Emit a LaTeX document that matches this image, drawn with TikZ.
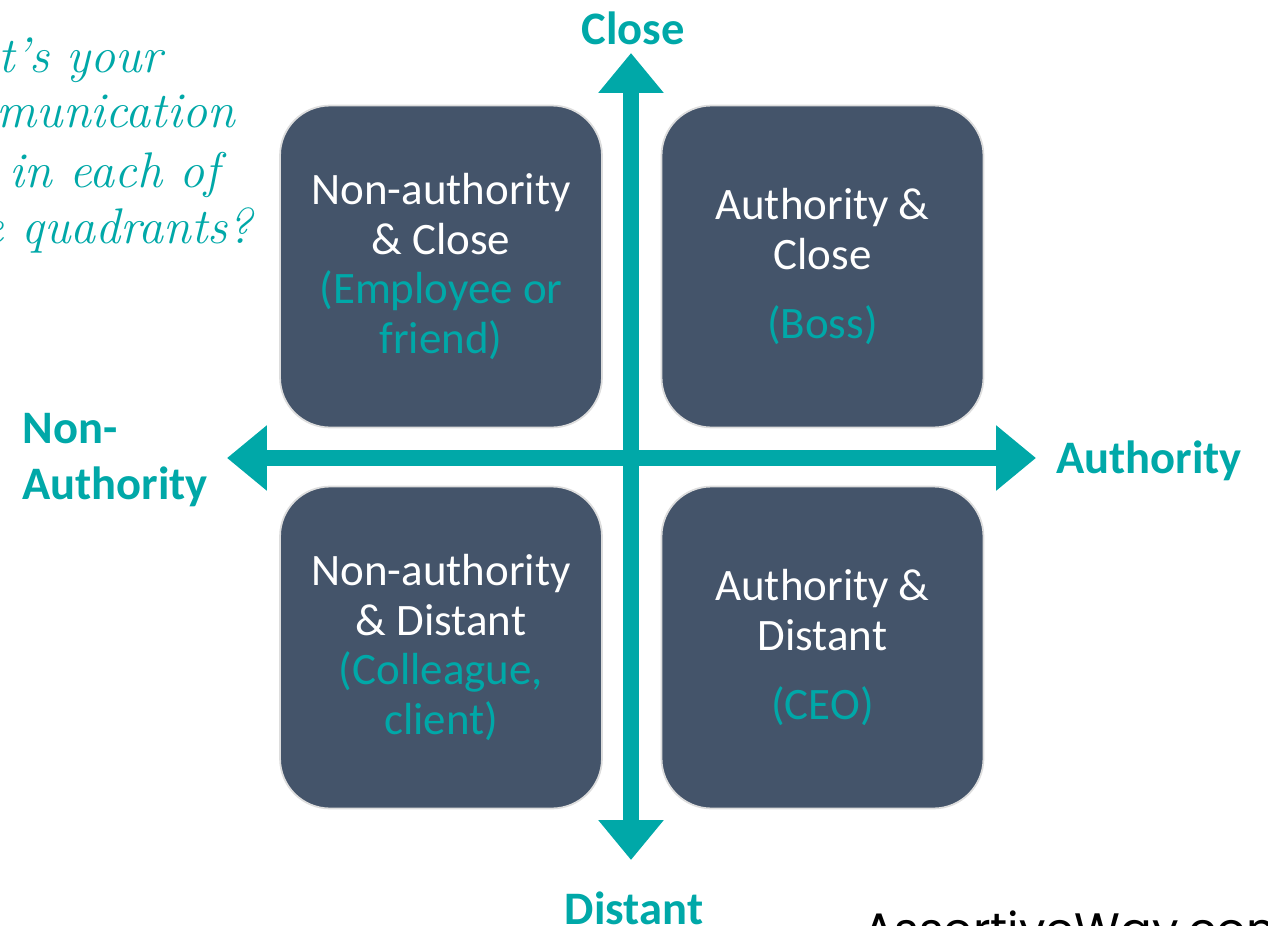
\documentclass[tikz,border=0pt]{standalone}
\usepackage{fontspec}
\setsansfont{Carlito}
\newfontfamily\webfont{Poppins}
\usetikzlibrary{arrows.meta}
\definecolor{axisteal}{HTML}{00A8A8}
\definecolor{boxslate}{HTML}{44546A}
\definecolor{boxedge}{HTML}{DDDDDD}
\newcommand{\hint}[1]{\textcolor{axisteal}{#1}}
\begin{document}
\begin{tikzpicture}[x=0.02cm, y=-0.02cm,
		quad/.style={draw=boxedge, line width=1pt, fill=boxslate, rounded corners=1cm,
			minimum width=6.44cm, minimum height=6.44cm, text=white, align=center,
			font=\sffamily\fontsize{25.6}{28.2}\selectfont},
		axis/.style={axisteal, line width=0.32cm,
			{Triangle[length=0.8cm, width=1.26cm]}-{Triangle[length=0.8cm, width=1.26cm]}},
		axislabel/.style={text=axisteal, inner sep=0pt,
			font=\sffamily\bfseries\fontsize{26.5}{31.9}\selectfont},
		hand/.style={text=axisteal, inner sep=0pt, anchor=base east,
			font=\rmfamily\itshape\fontsize{28.5}{32}\selectfont}]
		\useasboundingbox (0, 0) rectangle (1268, 926);
		\clip (0, 0) rectangle (1268, 926);
		% quadrants
		\node[quad] (nc) at (441, 266.5) {Non-authority\\\& Close\\\hint{(Employee or}\\\hint{friend)}};
		\node[quad] (ac) at (822.5, 266.5) {Authority \&\\Close\\[0.4cm]\hint{(Boss)}};
		\node[quad] (nd) at (441, 647.5) {Non-authority\\\& Distant\\\hint{(Colleague,}\\\hint{client)}};
		\node[quad] (ad) at (822.5, 647.5) {Authority \&\\Distant\\[0.4cm]\hint{(CEO)}};
		% axes
		\coordinate (up) at (631, 53);
		\coordinate (down) at (631, 860);
		\coordinate (left) at (227, 458);
		\coordinate (right) at (1036, 458);
		\draw[axis] (down) -- (up);
		\draw[axis] (left) -- (right);
		\node[axislabel] (close) at (633, 28) {Close};
		\node[axislabel] (distant) at (634, 908) {Distant};
		\node[axislabel] (auth) at (1149, 461) {Authority};
		\node[axislabel, align=left, anchor=west] (nonauth) at (22, 460) {Non-\\Authority};
		% question
		\node[hand] (q1) at (163, 73) {What's your};
		\node[hand] (q2) at (235, 128) {communication};
		\node[hand] (q3) at (220, 187) {style in each of};
		\node[hand] (q4) at (253, 243) {these quadrants?};
		\node[inner sep=0pt, anchor=base west, font=\webfont\fontsize{26.7}{30}\selectfont] (site) at (863, 946) {AssertiveWay.com};
\end{tikzpicture}
\end{document}
